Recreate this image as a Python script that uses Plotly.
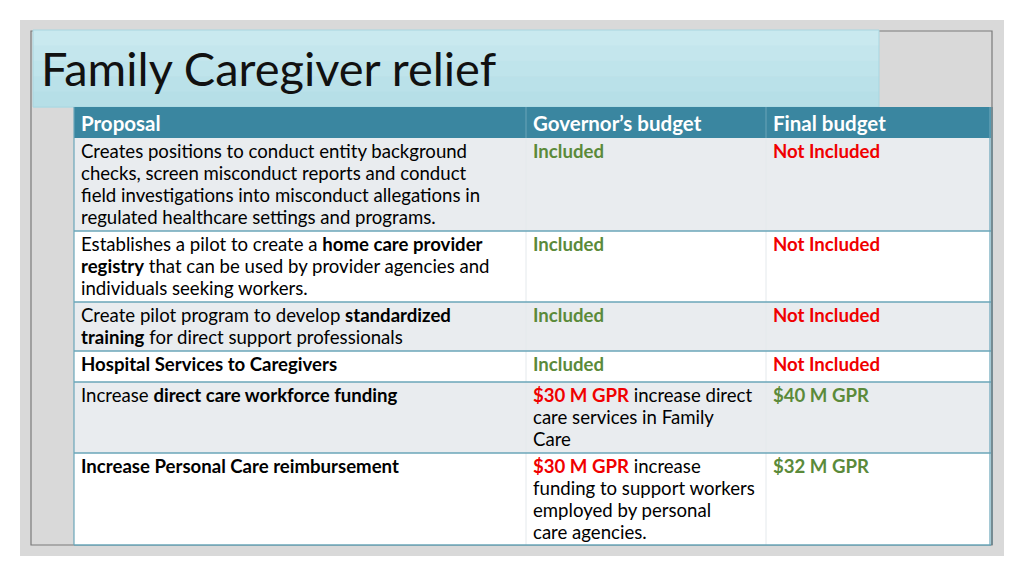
import plotly.graph_objects as go

# ---------------- data ----------------
title = "Family Caregiver relief"
headers = ["Proposal", "Governor’s budget", "Final budget"]

proposals = [
    "Creates positions to conduct entity background<br>checks, screen misconduct reports and conduct<br>field investigations into misconduct allegations in<br>regulated healthcare settings and programs.",
    "Establishes a pilot to create a <b>home care provider</b><br><b>registry</b> that can be used by provider agencies and<br>individuals seeking workers.",
    "Create pilot program to develop <b>standardized</b><br><b>training</b> for direct support professionals",
    "<b>Hospital Services to Caregivers</b>",
    "Increase <b>direct care workforce funding</b>",
    "<b>Increase Personal Care reimbursement</b>",
]
governor_lead = ["Included", "Included", "Included", "Included", "$30 M GPR", "$30 M GPR"]
governor_note = [
    "", "", "", "",
    " increase direct<br>care services in Family<br>Care",
    " increase<br>funding to support workers<br>employed by personal<br>care agencies.",
]
final_budget = ["Not Included", "Not Included", "Not Included", "Not Included", "$40 M GPR", "$32 M GPR"]

# ---------------- layout / style ----------------
FONT = "Lato"
SIZE = 18.6
GREEN = "#5b8a3a"
RED = "#f00000"
TEAL = "#3a86a0"
LINE = "#6aa6b9"
GRAY_ROW = "#e9ecef"

row_tops = [138, 231, 302, 351, 382, 453]
table_bottom = 545
header_top = 107
col_x = [74, 526, 766, 991]
text_dx = 5
line_h = 22
first_dy = 13

fig = go.Figure()
shapes = []

def rect(x0, y0, x1, y1, fill, line_color=None, width=0):
    shapes.append(dict(type="rect", x0=x0, y0=y0, x1=x1, y1=y1, fillcolor=fill,
                       line=dict(color=line_color or fill, width=width), layer="below"))

def hline(x0, x1, y, color, width=1.5):
    shapes.append(dict(type="line", x0=x0, x1=x1, y0=y, y1=y, line=dict(color=color, width=width), layer="below"))

def vline(x, y0, y1, color, width=1):
    shapes.append(dict(type="line", x0=x, x1=x, y0=y0, y1=y1, line=dict(color=color, width=width), layer="below"))

# slide background
rect(20, 20, 1004, 556, "#d9d9d9")
# frame
shapes.append(dict(type="rect", x0=31, y0=31, x1=992, y1=545, line=dict(color="#7a7a7a", width=1.2),
                   fillcolor="rgba(0,0,0,0)", layer="below"))
# title band (soft gradient via stacked strips)
band_top, band_bot = 30, 107
grad = ["#c9e9ef", "#c4e6ed", "#bfe4eb", "#bae1e9", "#b6dfe7"]
step = (band_bot - band_top) / len(grad)
for i, c in enumerate(grad):
    rect(33, band_top + i * step, 879, band_top + (i + 1) * step + 0.5, c)
shapes.append(dict(type="rect", x0=33, y0=band_top, x1=879, y1=band_bot, line=dict(color="#a9d6e0", width=1),
                   fillcolor="rgba(0,0,0,0)", layer="below"))

# header
rect(col_x[0], header_top, col_x[3], row_tops[0], TEAL)
# rows
bounds = row_tops + [table_bottom]
for i in range(len(row_tops)):
    rect(col_x[0], bounds[i], col_x[3], bounds[i + 1], GRAY_ROW if i % 2 == 0 else "#ffffff")
# column dividers
for cx in col_x[1:3]:
    vline(cx, header_top, row_tops[0], "rgba(255,255,255,0.25)")
    vline(cx, row_tops[0], table_bottom, "#e4e9ec")
# row separators
for y in row_tops[1:]:
    hline(col_x[0], col_x[3], y, LINE)
hline(col_x[0], col_x[3], table_bottom, LINE)
# table outer edges
vline(col_x[0], header_top, table_bottom, LINE, 1.2)
vline(col_x[3] - 1, header_top, table_bottom, LINE, 1.2)
vline(col_x[3] + 1, header_top, table_bottom, "#5b7f8a", 1.2)

ann = []

def add_text(x, y, text, color="#000000", size=SIZE, bold=False):
    if bold:
        text = "<b>" + text + "</b>"
    ann.append(dict(x=x, y=y, text=text, xanchor="left", yanchor="middle", showarrow=False,
                    font=dict(family=FONT, size=size, color=color), xref="x", yref="y"))

def add_lines(x, top, html, color="#000000"):
    for k, line in enumerate(html.split("<br>")):
        add_text(x, top + first_dy + k * line_h, line.strip() if k > 0 else line, color)

# title
add_text(39, 68, title, "#111111", size=47)

# header text
for j, h in enumerate(headers):
    add_text(col_x[j] + text_dx, (header_top + row_tops[0]) / 2, h, "#ffffff", size=20.5, bold=True)

def status_color(s, default):
    if s == "Included":
        return GREEN
    if s == "Not Included":
        return RED
    return default

for i, top in enumerate(row_tops):
    add_lines(col_x[0] + text_dx, top, proposals[i])
    lead = "<span style='color:%s'><b>%s</b></span>" % (status_color(governor_lead[i], RED), governor_lead[i])
    add_lines(col_x[1] + text_dx, top, lead + governor_note[i])
    fin = "<span style='color:%s'><b>%s</b></span>" % (status_color(final_budget[i], GREEN), final_budget[i])
    add_lines(col_x[2] + text_dx, top, fin)

# page body has an 8px margin: map axis units to page pixels
fig.update_layout(
    width=1008, height=560, margin=dict(l=0, r=0, t=0, b=0),
    paper_bgcolor="#ffffff", plot_bgcolor="#ffffff",
    xaxis=dict(range=[8, 1016], visible=False, fixedrange=True),
    yaxis=dict(range=[568, 8], visible=False, fixedrange=True),
    shapes=shapes, annotations=ann, showlegend=False,
)
fig.write_html("out.html")
